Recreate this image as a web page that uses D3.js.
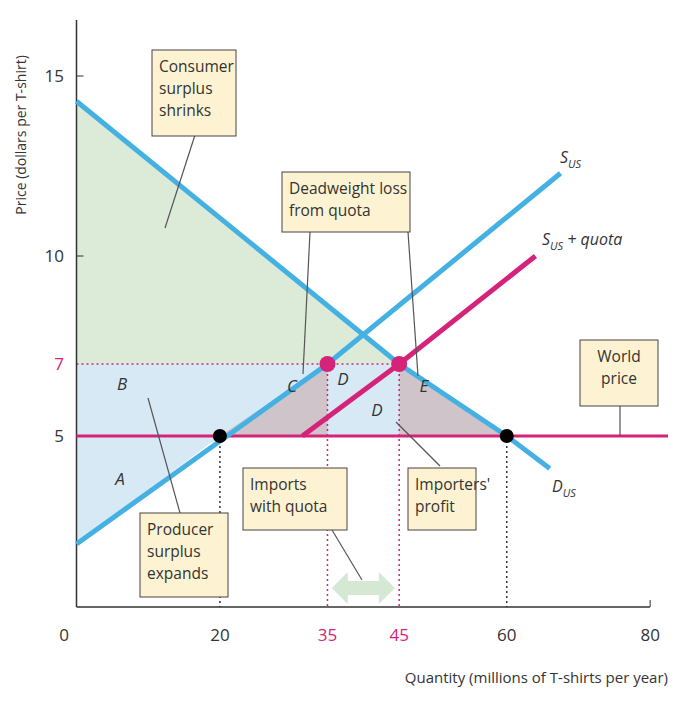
<!DOCTYPE html>
<html><head><meta charset="utf-8">
<script src="https://cdn.jsdelivr.net/npm/d3@7"></script>
<style>body{margin:0;background:#fff}text{font-family:"Open Sans",sans-serif}</style>
</head><body><svg id="chart" width="700" height="720"></svg>
<script>
var demand = [[0, 14.3], [45, 7], [60, 5], [66, 4.1]];
var supply = [[0, 2], [35, 7], [67.5, 12.3]];
var supplyQuota = [[31.5, 5], [45, 7], [64, 10]];
var worldPrice = 5, quotaPrice = 7;
var xTicks = [0, 20, 35, 45, 60, 80];
var yTicks = [5, 7, 10, 15];
var redTicks = [35, 45, 7];
var blue = "#45b1e3", pink = "#d6237a", ink = "#333";

var svg = d3.select("#chart");
var x = d3.scaleLinear().domain([0, 85]).range([76.5, 686]);
var y = d3.scaleLinear().domain([0, 15]).range([616, 76]);
var line = d3.line().x(function(d) { return x(d[0]); }).y(function(d) { return y(d[1]); });
var poly = function(pts) { return line(pts) + "Z"; };

// areas
svg.append("path").attr("d", poly([[0, 14.3], [45, 7], [0, 7]])).attr("fill", "#dcebd8");
svg.append("path").attr("d", poly([[0, 2], [20, 5], [45, 5], [45, 7], [0, 7]])).attr("fill", "#d8e9f6");
svg.append("path").attr("d", poly([[20, 5], [35, 7], [35, 5]])).attr("fill", "#cfc4c9");
svg.append("path").attr("d", poly([[45, 7], [60, 5], [45, 5]])).attr("fill", "#cfc4c9");

// dotted guides
var dots = svg.append("g").attr("stroke-dasharray", "2,3").attr("stroke-width", 1.5);
dots.append("line").attr("x1", x(0)).attr("x2", x(45)).attr("y1", y(7)).attr("y2", y(7)).attr("stroke", pink);
[35, 45].forEach(function(v) {
  dots.append("line").attr("x1", x(v)).attr("x2", x(v)).attr("y1", y(7)).attr("y2", 607).attr("stroke", pink);
});
[20, 60].forEach(function(v) {
  dots.append("line").attr("x1", x(v)).attr("x2", x(v)).attr("y1", y(5)).attr("y2", 607).attr("stroke", ink);
});

// axes
svg.append("line").attr("x1", x(0)).attr("x2", x(0)).attr("y1", 20).attr("y2", 607).attr("stroke", ink).attr("stroke-width", 1.5);
svg.append("line").attr("x1", x(0)).attr("x2", 650).attr("y1", 607).attr("y2", 607).attr("stroke", ink).attr("stroke-width", 1.5);
svg.append("line").attr("x1", x(80)).attr("x2", x(80)).attr("y1", 607).attr("y2", 600).attr("stroke", ink);
[5, 10, 15].forEach(function(v) {
  svg.append("line").attr("x1", x(0)).attr("x2", x(0) + 7).attr("y1", y(v)).attr("y2", y(v)).attr("stroke", ink);
});
svg.selectAll(".xt").data(xTicks).enter().append("text")
  .attr("x", function(d) { return d == 0 ? 64 : x(d); }).attr("y", 641).attr("text-anchor", "middle")
  .attr("font-size", 17).attr("fill", function(d) { return redTicks.indexOf(d) >= 0 ? pink : ink; })
  .text(function(d) { return d; });
svg.selectAll(".yt").data(yTicks).enter().append("text")
  .attr("x", 64).attr("y", function(d) { return y(d) + 6; }).attr("text-anchor", "end")
  .attr("font-size", 17).attr("fill", function(d) { return redTicks.indexOf(d) >= 0 ? pink : ink; })
  .text(function(d) { return d; });
svg.append("text").attr("x", 668).attr("y", 683).attr("text-anchor", "end").attr("font-size", 15).attr("fill", ink)
  .text("Quantity (millions of T-shirts per year)");
svg.append("text").attr("transform", "translate(26,135) rotate(-90)").attr("text-anchor", "middle")
  .attr("font-size", 14).attr("fill", ink).text("Price (dollars per T-shirt)");

// lines
svg.append("line").attr("x1", x(0)).attr("x2", 668).attr("y1", y(worldPrice)).attr("y2", y(worldPrice)).attr("stroke", pink).attr("stroke-width", 3);
svg.append("path").attr("d", line(demand)).attr("fill", "none").attr("stroke", blue).attr("stroke-width", 5);
svg.append("path").attr("d", line(supply)).attr("fill", "none").attr("stroke", blue).attr("stroke-width", 5);
svg.append("path").attr("d", line(supplyQuota)).attr("fill", "none").attr("stroke", pink).attr("stroke-width", 5);

// points
[[20, 5], [60, 5]].forEach(function(p) {
  svg.append("circle").attr("cx", x(p[0])).attr("cy", y(p[1])).attr("r", 7).attr("fill", "#000");
});
[[35, 7], [45, 7]].forEach(function(p) {
  svg.append("circle").attr("cx", x(p[0])).attr("cy", y(p[1])).attr("r", 8).attr("fill", pink);
});

// curve labels
function lab(t, sub, rest, px, py) {
  var tx = svg.append("text").attr("x", px).attr("y", py).attr("font-size", 16).attr("font-style", "italic").attr("fill", ink);
  tx.append("tspan").text(t);
  tx.append("tspan").attr("font-size", 11).attr("dy", 5).text(sub);
  if (rest) tx.append("tspan").attr("dy", -5).text(rest);
}
lab("S", "US", "", 560, 163);
lab("S", "US", " + quota", 542, 245);
lab("D", "US", "", 552, 492);
[["B", 122, 390], ["A", 120, 485], ["C", 292, 392], ["D", 343, 385], ["D", 377, 416], ["E", 424, 392]].forEach(function(l) {
  svg.append("text").attr("x", l[1]).attr("y", l[2]).attr("text-anchor", "middle").attr("font-size", 17)
    .attr("font-style", "italic").attr("fill", ink).text(l[0]);
});

// leader lines
var leaders = [[[195, 135], [165, 228]], [[148, 398], [180, 513]], [[310, 232], [303, 374]], [[408, 232], [418, 376]],
  [[396, 422], [440, 466]], [[620, 406], [620, 436]], [[332, 530], [362, 580]]];
leaders.forEach(function(l) {
  svg.append("line").attr("x1", l[0][0]).attr("y1", l[0][1]).attr("x2", l[1][0]).attr("y2", l[1][1]).attr("stroke", "#555").attr("stroke-width", 1.2);
});

// arrow
var ay = 588;
svg.append("path").attr("d", "M" + x(35.6) + "," + ay + " l16,-16 v9 h" + (x(44.4) - x(35.6) - 32) + " v-9 l16,16 l-16,16 v-9 h-" + (x(44.4) - x(35.6) - 32) + " v9 Z")
  .attr("fill", "#d5e8d3");

// boxes
var boxes = [
  [152, 50, 84, 86, ["Consumer", "surplus", "shrinks"]],
  [282, 172, 128, 60, ["Deadweight loss", "from quota"]],
  [580, 340, 78, 66, ["World", "price"]],
  [243, 468, 104, 62, ["Imports", "with quota"]],
  [408, 468, 68, 62, ["Importers'", "profit"]],
  [140, 513, 88, 84, ["Producer", "surplus", "expands"]]
];
boxes.forEach(function(b) {
  svg.append("rect").attr("x", b[0]).attr("y", b[1]).attr("width", b[2]).attr("height", b[3])
    .attr("fill", "#fdf3d2").attr("stroke", "#444").attr("stroke-width", 1);
  var center = b[0] === 580;
  b[4].forEach(function(s, i) {
    svg.append("text").attr("x", center ? b[0] + b[2] / 2 : b[0] + 7).attr("y", b[1] + 22 + i * 22)
      .attr("text-anchor", center ? "middle" : "start").attr("font-size", 15.5).attr("fill", ink).text(s);
  });
});
</script></body></html>
